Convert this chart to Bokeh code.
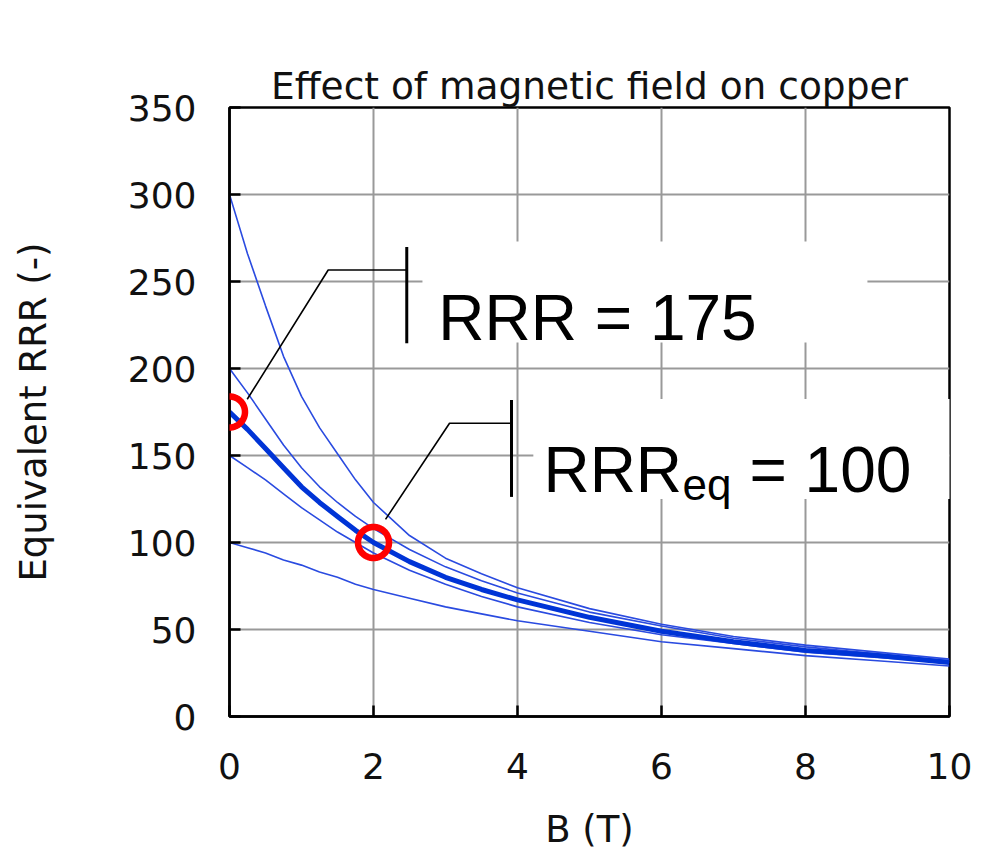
import numpy as np
from bokeh.plotting import figure
from bokeh.models import Range1d, FixedTicker, Label, BoxAnnotation, PolyAnnotation, Title
from bokeh.embed import file_html
from bokeh.resources import INLINE

# Magnetic field (T) sample points shared by all curves
b_field = [0, 0.25, 0.5, 0.75, 1, 1.25, 1.5, 1.75, 2, 2.5, 3, 3.5, 4, 5, 6, 7, 8, 9, 10]

# Equivalent RRR versus field for copper of different zero-field RRR
rrr_300 = [300, 266, 236, 207, 184, 166, 151, 136, 123, 104, 91, 82, 74, 62, 53, 46, 41, 37, 33]
rrr_200 = [200, 186, 171, 156, 143, 132, 123, 115, 108, 96, 86, 78, 71, 60, 52, 45, 40, 36, 32]
rrr_175 = [175, 165, 154, 143, 132, 123, 115, 107, 100, 89, 80, 73, 67, 57, 49, 43, 38, 35, 31]
rrr_150 = [150, 143, 136, 128, 120, 113, 106, 100, 94, 84, 76, 69, 63, 54, 47, 42, 37, 34, 31]
rrr_100 = [100, 97, 94, 90, 87, 83, 80, 76, 73, 68, 63, 59, 55, 49, 43, 39, 35, 32, 29]

x_ticks = [0, 2, 4, 6, 8, 10]
y_ticks = [0, 50, 100, 150, 200, 250, 300, 350]

# Highlighted operating points
rrr_zero_field = 175
b_operating = 2
rrr_equivalent = 100

W, H = 984, 853
LEFT, RIGHT, TOP, BOTTOM = 229, 35, 107, 137
X_MIN, X_MAX, Y_MIN, Y_MAX = 0, 10, 0, 350

p = figure(width=W, height=H,
           x_range=Range1d(X_MIN, X_MAX), y_range=Range1d(Y_MIN, Y_MAX),
           output_backend="svg", toolbar_location=None,
           min_border_left=LEFT, min_border_right=RIGHT,
           min_border_top=TOP, min_border_bottom=BOTTOM,
           background_fill_color="white", border_fill_color="white")

# pixels per data unit of the plotting frame
px_x = (W - LEFT - RIGHT) / (X_MAX - X_MIN)
px_y = (H - TOP - BOTTOM) / (Y_MAX - Y_MIN)

p.title.text = ""

# transparent spacer next to the frame, then the chart title above it
p.add_layout(Title(text=".", text_font_size="1px", text_alpha=0, standoff=47), "above")
p.add_layout(Title(text="Effect of magnetic field on copper", align="center",
                   offset=6, text_font="DejaVu Sans", text_font_size="37.5px",
                   text_font_style="normal", text_color="#111111", standoff=0),
             "above")

p.outline_line_color = "black"
p.outline_line_width = 2.5

for grid in (p.xgrid[0], p.ygrid[0]):
    grid.grid_line_color = "#999999"
    grid.grid_line_width = 2

p.xaxis.ticker = FixedTicker(ticks=x_ticks)
p.yaxis.ticker = FixedTicker(ticks=y_ticks)
p.xaxis.axis_label = "B (T)"
p.yaxis.axis_label = "Equivalent RRR (-)"

for ax in (p.xaxis[0], p.yaxis[0]):
    ax.axis_line_color = "black"
    ax.axis_line_width = 2.5
    ax.major_tick_in = 11
    ax.major_tick_out = 0
    ax.major_tick_line_width = 2.5
    ax.minor_tick_line_color = None
    ax.major_label_text_font = "DejaVu Sans"
    ax.major_label_text_font_size = "36px"
    ax.major_label_text_color = "#111111"
    ax.axis_label_text_font = "DejaVu Sans"
    ax.axis_label_text_font_size = "37px"
    ax.axis_label_text_font_style = "normal"
    ax.axis_label_text_color = "#111111"

p.xaxis.major_label_standoff = 36
p.yaxis.major_label_standoff = 33
p.xaxis.axis_label_standoff = 26
p.yaxis.axis_label_standoff = 70

# field curves
thin = dict(line_color="#2a4be0", line_width=1.6)
for series in (rrr_300, rrr_200, rrr_150, rrr_100):
    p.line(b_field, series, **thin)
p.line(b_field, rrr_175, line_color="#0034d6", line_width=5)

# callout boxes hiding the grid behind the labels
p.add_layout(BoxAnnotation(left=2.68, right=8.86, bottom=215, top=273,
                           fill_color="white", fill_alpha=1, line_alpha=0))
p.add_layout(BoxAnnotation(left=4.22, right=10.5, bottom=125, top=182.5,
                           fill_color="white", fill_alpha=1, line_alpha=0))

# leader lines with end bars
lead = dict(line_color="black", line_width=1.6)
bar = dict(line_color="black", line_width=3)
p.line([0.246, 1.371, 2.462], [182.3, 256.6, 256.6], **lead)
p.line([2.462, 2.462], [214.5, 269.8], **bar)
p.line([2.167, 3.056, 3.917], [113.3, 168.5, 168.5], **lead)
p.line([3.917, 3.917], [126.2, 181.9], **bar)

# callout texts
big = dict(text_font="Liberation Sans", text_font_size="64px",
           text_color="black", text_baseline="alphabetic", text_align="left")
p.add_layout(Label(x=2.90, y=229, text=f"RRR = {rrr_zero_field}", **big))
p.add_layout(Label(x=4.36, y=141.7, text="RRR", **big))
p.add_layout(Label(x=4.36, y=141.7, x_offset=139, y_offset=-15, text="eq",
                   text_font="Liberation Sans", text_font_size="44px",
                   text_color="black", text_baseline="alphabetic"))
p.add_layout(Label(x=4.36, y=141.7, x_offset=206, text=f"= {rrr_equivalent}", **big))

# red rings marking the two operating points
ring_r = 15.5
theta = np.linspace(0, 2 * np.pi, 73)
for cx, cy in ((0, rrr_zero_field), (b_operating, rrr_equivalent)):
    p.add_layout(PolyAnnotation(
        xs=list(cx + ring_r / px_x * np.cos(theta)),
        ys=list(cy + ring_r / px_y * np.sin(theta)),
        fill_color=None, line_color="#ff0000", line_alpha=1.0, line_width=6.5))

open("out.html", "w").write(file_html(p, INLINE))
